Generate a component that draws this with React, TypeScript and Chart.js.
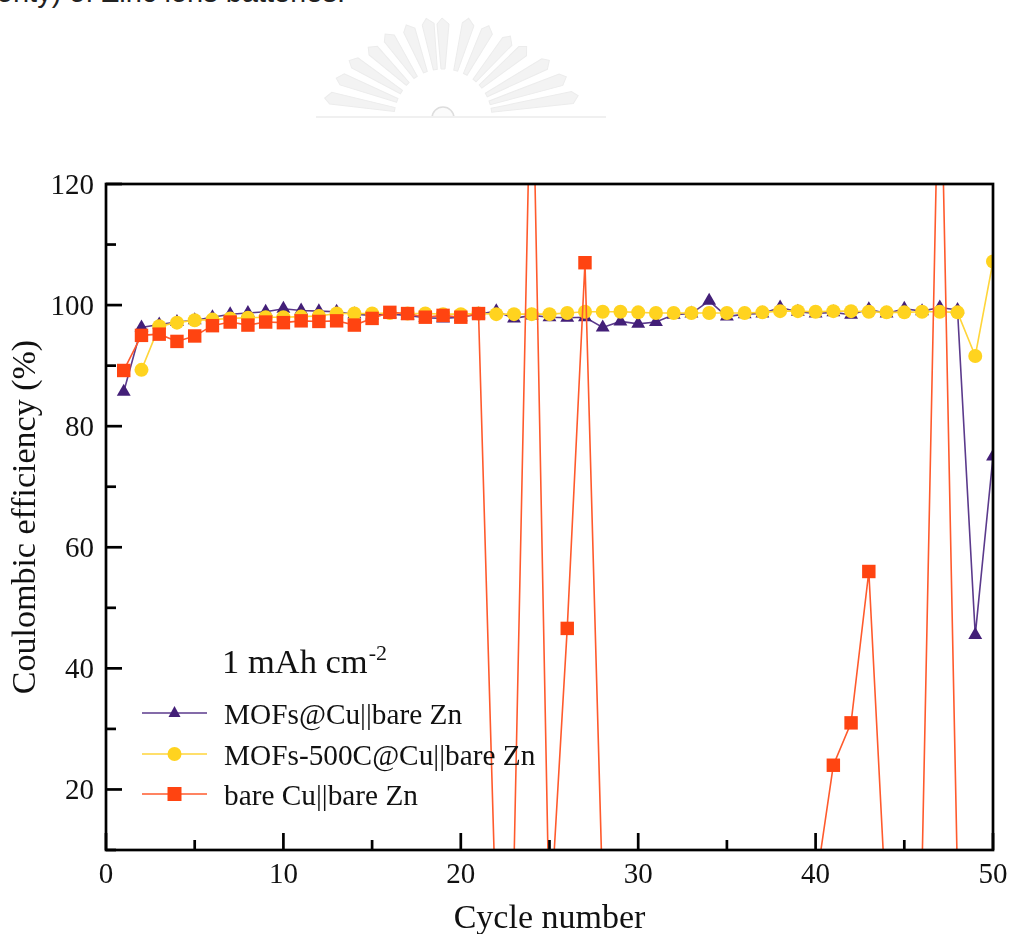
import React, { useEffect, useRef } from "react";
import { Chart, registerables } from "chart.js";

Chart.register(...registerables);

const cycles = Array.from({ length: 50 }, (_, i) => i + 1);
const mofsCu = [85.7, 96.3, 96.8, 97.2, 97.5, 98, 98.5, 98.7, 98.9, 99.4, 99.1, 99, 98.9, 98.5, 98.3, 98.5, 98.3, 97.9, 97.8, 98, 98.5, 99, 97.8, 98.3, 98, 97.9, 98, 96.3, 97.3, 96.9, 97.2, 98.4, 98.6, 100.7, 98.1, 98.5, 98.6, 99.6, 98.9, 98.6, 98.8, 98.4, 99.3, 98.6, 99.4, 99, 99.6, 99.2, 45.5, 75];
const mofs500C = [null, 89.3, 96.5, 97.1, 97.5, 97.6, 97.8, 97.9, 98, 98, 98.1, 98.2, 98.6, 98.6, 98.6, 98.7, 98.6, 98.6, 98.5, 98.5, 98.6, 98.5, 98.5, 98.5, 98.5, 98.7, 98.9, 98.9, 98.9, 98.8, 98.7, 98.7, 98.7, 98.7, 98.7, 98.7, 98.8, 99, 99, 98.9, 99, 99, 98.9, 98.8, 98.8, 98.9, 98.9, 98.8, 91.6, 107.2];
const bareCu = [89.2, 95, 95.2, 94, 94.9, 96.6, 97.2, 96.7, 97.2, 97.1, 97.4, 97.3, 97.4, 96.7, 97.8, 98.8, 98.6, 98, 98.3, 98, 98.6, -3, 8, 148, -3.5, 46.6, 107, 2, null, null, null, null, null, null, null, null, null, null, null, 4, 24, 31, 56, -1, null, 7, 150, 5, null, null];

const seriesNames = ["MOFs@Cu||bare Zn", "MOFs-500C@Cu||bare Zn", "bare Cu||bare Zn"];
const seriesColors = ["#431F78", "#FFD31F", "#FF4411"];
const lineColors = ["#5B3A8C", "#FFD53A", "#FF5A2C"];
const seriesMarkers = ["triangle", "circle", "rect"];
const markerRadius = [8, 7, 9.5];
const rayAngles = [-80, -69, -58, -46, -34, -21, -9, 0, 15, 27, 40, 50, 62, 72, 81];
const rayLengths = [120, 114, 110, 103, 102, 100, 101, 100, 103, 103, 106, 110, 121, 130, 137];
const SERIF = '"Liberation Serif", serif';

const decor = {
  id: "decor",
  afterUpdate(chart: any) {
    for (const item of chart.scales.y.getLabelItems()) {
      item.options.translation[1] += 2;
    }
  },
  afterDatasetsDraw(chart: any) {
    const { ctx, chartArea: a, scales } = chart;
    ctx.save();
    ctx.strokeStyle = "#000";
    ctx.lineWidth = 2.7;
    ctx.strokeRect(a.left, a.top, a.right - a.left, a.bottom - a.top);
    for (const t of scales.x.ticks) {
      const px = scales.x.getPixelForValue(t.value);
      const len = t.value % 10 === 0 ? 17 : 10;
      ctx.beginPath();
      ctx.moveTo(px, a.bottom);
      ctx.lineTo(px, a.bottom - len);
      ctx.stroke();
    }
    for (const t of scales.y.ticks) {
      const py = scales.y.getPixelForValue(t.value);
      const len = t.value % 20 === 0 ? 16 : 10;
      ctx.beginPath();
      ctx.moveTo(a.left, py);
      ctx.lineTo(a.left + len, py);
      ctx.stroke();
    }

    ctx.fillStyle = "#111";
    ctx.textBaseline = "alphabetic";
    ctx.textAlign = "left";
    ctx.font = `34.5px ${SERIF}`;
    ctx.fillText("1 mAh cm", 222, 673);
    const w = ctx.measureText("1 mAh cm").width;
    ctx.font = `22px ${SERIF}`;
    ctx.fillText("-2", 222 + w + 1, 660);

    const rows = [713, 754, 794];
    seriesNames.forEach((name, i) => {
      const y = rows[i];
      ctx.strokeStyle = lineColors[i];
      ctx.lineWidth = 1.6;
      ctx.beginPath();
      ctx.moveTo(142, y);
      ctx.lineTo(207, y);
      ctx.stroke();
      ctx.fillStyle = seriesColors[i];
      ctx.beginPath();
      if (i === 0) {
        ctx.moveTo(174.5, y - 7);
        ctx.lineTo(180.5, y + 4);
        ctx.lineTo(168.5, y + 4);
        ctx.closePath();
      } else if (i === 1) {
        ctx.arc(174.5, y, 7, 0, Math.PI * 2);
      } else {
        ctx.rect(167.5, y - 7, 14, 14);
      }
      ctx.fill();
      ctx.fillStyle = "#111";
      ctx.font = `29.3px ${SERIF}`;
      ctx.fillText(name, 224, y + 11);
    });
    ctx.restore();
  },
};

export default function App() {
  const ref = useRef<HTMLCanvasElement>(null);
  useEffect(() => {
    const data = [mofsCu, mofs500C, bareCu];
    const chart = new Chart(ref.current as any, {
      type: "line",
      data: {
        labels: cycles,
        datasets: data.map((d, i) => ({
          label: seriesNames[i],
          data: d.map((v, k) => ({ x: cycles[k], y: v })),
          borderColor: lineColors[i],
          backgroundColor: seriesColors[i],
          pointBackgroundColor: seriesColors[i],
          pointBorderWidth: 0,
          borderWidth: 1.6,
          pointStyle: seriesMarkers[i],
          pointRadius: markerRadius[i],
          tension: 0,
          spanGaps: false,
          order: 3 - i,
        })),
      },
      options: {
        responsive: false,
        animation: false,
        layout: { padding: { left: 0, top: 184, right: 18, bottom: -5 } },
        plugins: { legend: { display: false }, tooltip: { enabled: false }, title: { display: false } },
        scales: {
          x: {
            type: "linear",
            min: 0,
            max: 50,
            grid: { display: false, drawTicks: false },
            border: { display: false },
            ticks: {
              stepSize: 5,
              autoSkip: false,
              maxRotation: 0,
              padding: 8,
              color: "#111",
              font: { family: SERIF, size: 29 },
              callback: (v: any) => (v % 10 === 0 ? String(v) : ""),
            },
            title: { display: true, text: "Cycle number", color: "#111", font: { family: SERIF, size: 34 }, padding: 0 },
            afterFit: (s: any) => {
              s.height = 89;
              s.paddingLeft = 0;
              s.paddingRight = 0;
            },
          },
          y: {
            min: 10,
            max: 120,
            grid: { display: false, drawTicks: false },
            border: { display: false },
            ticks: {
              stepSize: 10,
              autoSkip: false,
              padding: 12,
              color: "#111",
              font: { family: SERIF, size: 29 },
              callback: (v: any) => (v % 20 === 0 ? String(v) : ""),
            },
            title: { display: true, text: "Coulombic efficiency (%)", color: "#111", font: { family: SERIF, size: 34 }, padding: 6 },
            afterFit: (s: any) => {
              s.width = 106;
              s.paddingTop = 0;
              s.paddingBottom = 0;
            },
          },
        },
      },
      plugins: [decor],
    } as any);
    return () => chart.destroy();
  }, []);

  return (
    <div style={{ position: "absolute", left: 0, top: 0, width: 1011, height: 934, overflow: "hidden", background: "#fff" }}>
      <div
        style={{
          position: "absolute",
          right: 666,
          top: -24,
          whiteSpace: "nowrap",
          font: '29px "Liberation Sans", sans-serif',
          color: "#222",
        }}
      >
        superiority) of Zinc ions batteries.
      </div>
      <svg width={1011} height={934} style={{ position: "absolute", left: 0, top: 0 }}>
        <defs>
          <clipPath id="wm">
            <rect x={300} y={0} width={320} height={118} />
          </clipPath>
        </defs>
        <g clipPath="url(#wm)">
          {rayAngles.map((ang, i) => (
            <g key={ang} transform={`translate(443 118) rotate(${ang})`}>
              <path
                d={`M-2 -49 L-6 ${-rayLengths[i] + 6} L-1 ${-rayLengths[i]} L6 ${-rayLengths[i] + 6} L2 -49 Z`}
                fill="#f3f3f3"
                stroke="#ececec"
                strokeWidth={1}
              />
            </g>
          ))}
          <circle cx={443} cy={118} r={11} fill="#fbfbfb" stroke="#dddddd" strokeWidth={1.5} />
          <rect x={316} y={116} width={290} height={2} fill="#f0f0f0" />
        </g>
      </svg>
      <canvas ref={ref} width={1011} height={934} style={{ position: "absolute", left: 0, top: 0, display: "block" }} />
    </div>
  );
}
